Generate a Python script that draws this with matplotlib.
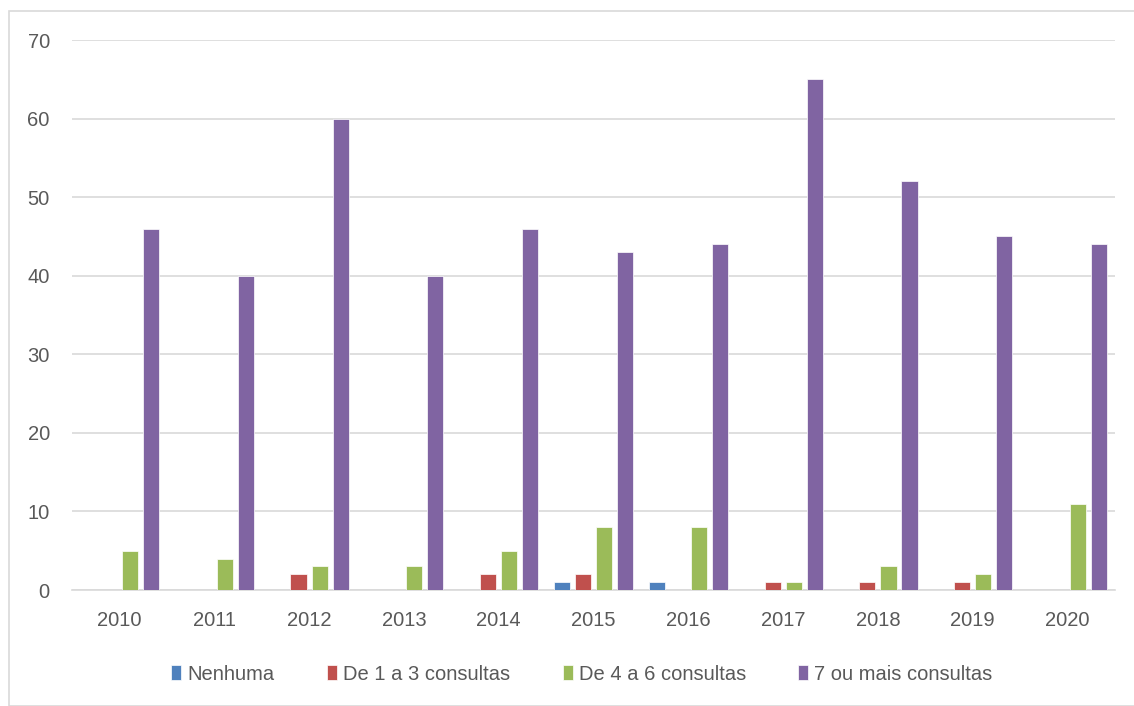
import numpy as np
from matplotlib import pyplot as plt
from matplotlib.patches import Rectangle

years = ["2010", "2011", "2012", "2013", "2014", "2015", "2016", "2017", "2018", "2019", "2020"]
nenhuma = [0, 0, 0, 0, 0, 1, 1, 0, 0, 0, 0]
de1a3 = [0, 0, 2, 0, 2, 2, 0, 1, 1, 1, 0]
de4a6 = [5, 4, 3, 3, 5, 8, 8, 1, 3, 2, 11]
sete_mais = [46, 40, 60, 40, 46, 43, 44, 65, 52, 45, 44]

series = [
    ("Nenhuma", nenhuma, "#4F81BD"),
    ("De 1 a 3 consultas", de1a3, "#C0504D"),
    ("De 4 a 6 consultas", de4a6, "#9BBB59"),
    ("7 ou mais consultas", sete_mais, "#8064A2"),
]

plt.rcParams['font.family'] = ['Liberation Sans', 'DejaVu Sans']
text_color = "#595959"

fig = plt.figure(figsize=(11.34, 7.06), dpi=100)
ax = fig.add_axes([72/1134, 1 - 590/706, (1115-72)/1134, 550/706])

x = np.arange(len(years))
step = 0.222
width = 0.17
for i, (label, vals, color) in enumerate(series):
    ax.bar(x + (i - 1.5)*step, vals, width, color=color, label=label,
           edgecolor="white", linewidth=0.5, zorder=3)

ax.set_xlim(-0.5, len(years) - 0.5)
ax.set_ylim(0, 70)
ax.set_yticks(range(0, 71, 10))
ax.set_xticks(x)
ax.set_xticklabels(years)
ax.yaxis.grid(True, color="#D9D9D9", linewidth=1.2, zorder=0)
for s in ["top", "right", "left"]:
    ax.spines[s].set_visible(False)
ax.spines["bottom"].set_color("#D9D9D9")
ax.spines["bottom"].set_linewidth(1.2)
ax.tick_params(axis="both", length=0, labelsize=14.5, colors=text_color)
ax.tick_params(axis="x", pad=15)
ax.tick_params(axis="y", pad=16)

leg = fig.legend(loc="center", bbox_to_anchor=(582/1134, 1 - 674/706), ncol=4,
                 frameon=False, fontsize=14.5, handlelength=0.5, handleheight=0.8,
                 handletextpad=0.3, columnspacing=2.6)
for t in leg.get_texts():
    t.set_color(text_color)

fig.patches.append(Rectangle((9/1134, 0), 1.2, 1 - 11/706, transform=fig.transFigure,
                             fill=False, edgecolor="#D9D9D9", linewidth=1.2))

fig.savefig("out.png", dpi=100)
